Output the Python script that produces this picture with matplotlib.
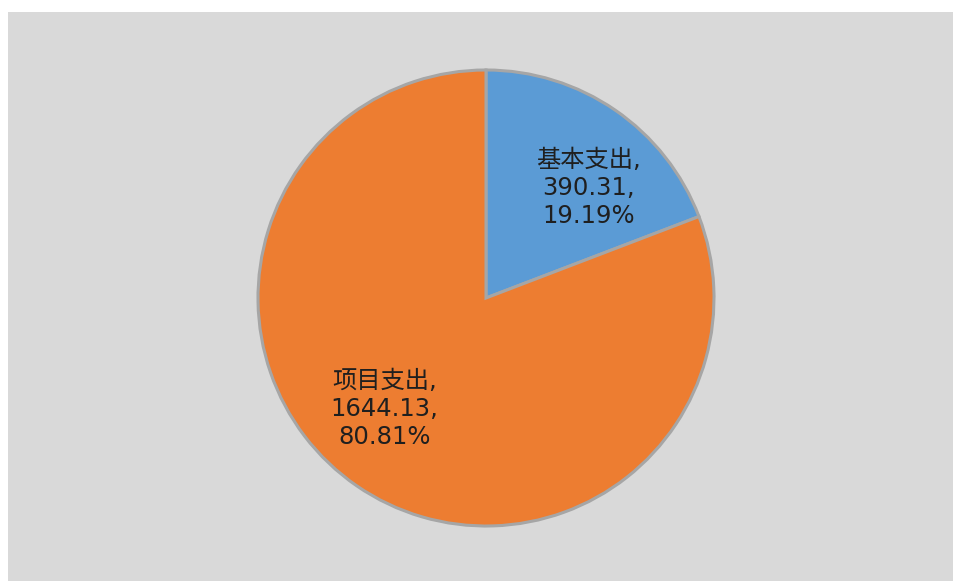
import matplotlib.pyplot as plt
import numpy as np

plt.rcParams['font.family'] = ['DejaVu Sans', 'Noto Sans CJK SC']

names = ['基本支出', '项目支出']
values = [390.31, 1644.13]
pcts = ['19.19%', '80.81%']
colors = ['#5b9bd5', '#ed7d31']

W, H = 954, 581
fig = plt.figure(figsize=(W / 100, H / 100), dpi=100)
fig.patch.set_facecolor('white')

# gray chart area
bg = fig.add_axes([8 / W, 0, 1 - 8 / W, (H - 12) / H])
bg.set_facecolor('#d9d9d9')
bg.set_xticks([]); bg.set_yticks([])
for s in bg.spines.values():
    s.set_visible(False)

cx, cy, r = 486, 298, 228
ax = fig.add_axes([(cx - r) / W, (H - cy - r) / H, 2 * r / W, 2 * r / H])
ax.set_facecolor('none')
wedges, _ = ax.pie(values, colors=colors, startangle=90, counterclock=False,
                   radius=1, wedgeprops=dict(edgecolor='#a6a6a6', linewidth=2.2))
for w in wedges:
    w.set_clip_on(False)
ax.set_xlim(-1, 1); ax.set_ylim(-1, 1)
ax.set_aspect('equal')
ax.axis('off')

# label positions (fraction of radius, angle in degrees)
label_pos = [(0.66, 47), (0.66, 227.5)]
for name, v, p, (d, a) in zip(names, values, pcts, label_pos):
    x = d * np.cos(np.radians(a))
    y = d * np.sin(np.radians(a))
    ax.text(x, y, f'{name},\n{v:.2f},\n{p}', ha='center', va='center',
            fontsize=17.5, color='#1f1f1f', linespacing=1.2)

fig.savefig('out.png', dpi=100)
